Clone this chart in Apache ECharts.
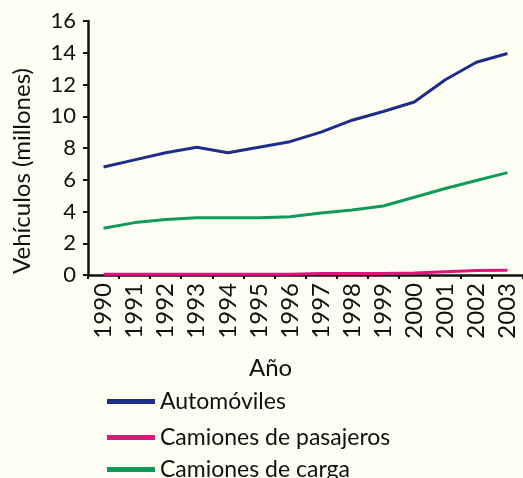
<!DOCTYPE html>
<html>
<head>
<meta charset="utf-8">
<script src="https://cdn.jsdelivr.net/npm/echarts@6/dist/echarts.min.js"></script>
<style>
html,body{margin:0;padding:0;background:#fffef2;}
#c{width:523px;height:478px;}
</style>
</head>
<body>
<div id="c"></div>
<script>
const years = ['1990','1991','1992','1993','1994','1995','1996','1997','1998','1999','2000','2001','2002','2003'];
const automoviles = [6.8, 7.25, 7.7, 8.05, 7.7, 8.05, 8.4, 9.0, 9.75, 10.3, 10.9, 12.3, 13.4, 13.95];
const camionesPasajeros = [0.05, 0.05, 0.05, 0.05, 0.05, 0.05, 0.05, 0.1, 0.1, 0.1, 0.12, 0.2, 0.28, 0.3];
const camionesCarga = [2.95, 3.3, 3.5, 3.6, 3.6, 3.6, 3.67, 3.9, 4.1, 4.35, 4.9, 5.45, 5.95, 6.45];
const yTicks = {min: 0, max: 16, interval: 2};
const seriesNames = ['Automóviles', 'Camiones de pasajeros', 'Camiones de carga'];

const font = 'Lato, "Open Sans", sans-serif';
const legendTops = [385, 421, 453];
const chart = echarts.init(document.getElementById('c'));
chart.setOption({
  backgroundColor: '#fffef2',
  animation: false,
  grid: {left: 88, top: 21, bottom: 203, right: -10, containLabel: false},
  legend: seriesNames.map((n, i) => ({
    orient: 'vertical', left: 102, top: legendTops[i],
    icon: 'rect', itemWidth: 48, itemHeight: 5,
    textStyle: {fontFamily: font, fontSize: 23, color: '#111'},
    data: [n]
  })),
  title: {
    text: 'Año', left: 249, top: 356, padding: 0,
    textStyle: {fontFamily: font, fontSize: 24, fontWeight: 'normal', color: '#111'}
  },
  graphic: [
    {type: 'text', x: 22, y: 171, rotation: Math.PI/2,
     style: {text: 'Vehículos (millones)', font: '24px ' + font, fill: '#111', align: 'center', verticalAlign: 'middle', textAlign: 'center', textVerticalAlign: 'middle'}}
  ],
  xAxis: {
    type: 'category', data: years, boundaryGap: true,
    axisLine: {lineStyle: {color: '#111', width: 2.5}},
    axisTick: {show: true, length: 4, lineStyle: {color: '#111', width: 2}},
    axisLabel: {rotate: 90, margin: 8, fontFamily: font, fontSize: 24, color: '#111', interval: 0},
    splitLine: {show: false}
  },
  yAxis: {
    type: 'value', min: yTicks.min, max: yTicks.max, interval: yTicks.interval,
    axisLine: {show: true, lineStyle: {color: '#111', width: 2.5}},
    axisTick: {show: true, length: 5, lineStyle: {color: '#111', width: 2}},
    axisLabel: {margin: 12, fontFamily: font, fontSize: 22, color: '#111'},
    splitLine: {show: false}
  },
  series: [
    {name: seriesNames[0], type: 'line', data: automoviles, symbol: 'none', color: '#1f2d8a', lineStyle: {width: 3, color: '#1f2d8a'}},
    {name: seriesNames[1], type: 'line', data: camionesPasajeros, symbol: 'none', color: '#e2127c', lineStyle: {width: 3, color: '#e2127c'}},
    {name: seriesNames[2], type: 'line', data: camionesCarga, symbol: 'none', color: '#0f9a5c', lineStyle: {width: 3, color: '#0f9a5c'}}
  ]
});
</script>
</body>
</html>
